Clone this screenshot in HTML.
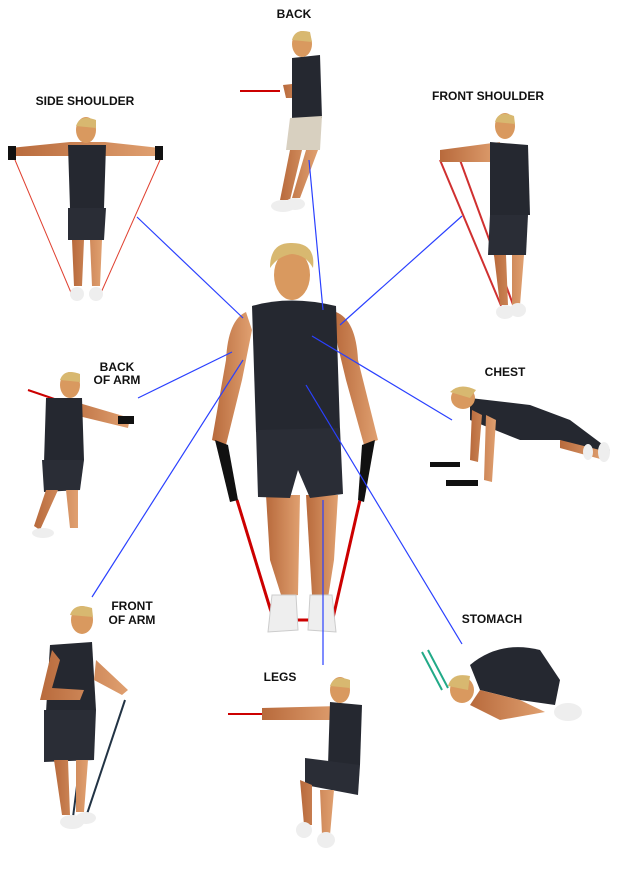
<!DOCTYPE html>
<html><head><meta charset="utf-8"><style>
html,body{margin:0;padding:0;background:#fff}
svg{display:block}
text{font-family:"Liberation Sans",Arial,sans-serif;font-weight:bold;font-size:12px;fill:#111}
</style></head><body>
<svg width="626" height="870" viewBox="0 0 626 870" xmlns="http://www.w3.org/2000/svg">
<defs>
<linearGradient id="sk" x1="0" x2="1"><stop offset="0" stop-color="#b86a3c"/><stop offset="1" stop-color="#e0a070"/></linearGradient>
</defs>
<!-- labels -->
<text x="294" y="18" text-anchor="middle">BACK</text>
<text x="85" y="105" text-anchor="middle">SIDE SHOULDER</text>
<text x="488" y="100" text-anchor="middle">FRONT SHOULDER</text>
<text x="117" y="371" text-anchor="middle">BACK</text>
<text x="117" y="384" text-anchor="middle">OF ARM</text>
<text x="505" y="376" text-anchor="middle">CHEST</text>
<text x="132" y="610" text-anchor="middle">FRONT</text>
<text x="132" y="624" text-anchor="middle">OF ARM</text>
<text x="280" y="681" text-anchor="middle">LEGS</text>
<text x="492" y="623" text-anchor="middle">STOMACH</text>

<!-- central figure -->
<g>
<line x1="237" y1="500" x2="273" y2="618" stroke="#c00" stroke-width="3"/>
<line x1="360" y1="500" x2="333" y2="618" stroke="#c00" stroke-width="3"/>
<line x1="290" y1="620" x2="320" y2="620" stroke="#c00" stroke-width="3"/>
<path d="M246 312 Q228 320 226 360 L212 440 L226 445 L242 380 L252 330Z" fill="url(#sk)"/>
<path d="M336 312 Q356 320 358 360 L378 440 L364 445 L346 380 L334 330Z" fill="url(#sk)"/>
<path d="M266 495 L300 495 L298 595 L282 598 L270 560Z" fill="url(#sk)"/>
<path d="M306 495 L338 495 L334 560 L328 598 L312 595Z" fill="url(#sk)"/>
<path d="M252 306 Q290 295 336 306 L340 430 L256 432Z" fill="#252830"/>
<path d="M256 430 L340 428 L343 494 L310 498 L298 470 L290 498 L258 497Z" fill="#2a2d36"/>
<ellipse cx="292" cy="275" rx="18" ry="25" fill="#d9995f"/>
<path d="M270 268 Q270 242 292 243 Q316 243 313 268 Q306 255 292 254 Q278 256 270 268Z" fill="#d8b870"/>
<path d="M272 595 L296 595 L298 630 L268 632Z" fill="#eee" stroke="#ccc"/>
<path d="M310 595 L332 595 L336 632 L308 630Z" fill="#eee" stroke="#ccc"/>
<path d="M215 440 L228 445 L238 500 L230 502Z" fill="#111"/>
<path d="M375 440 L362 445 L358 500 L364 502Z" fill="#111"/>
</g>

<!-- back (top) -->
<g>
<line x1="240" y1="91" x2="280" y2="91" stroke="#c00" stroke-width="2"/>
<path d="M283 85 L310 82 L312 98 L286 98Z" fill="url(#sk)"/>
<path d="M292 58 L320 55 L322 118 L292 120Z" fill="#252830"/>
<path d="M290 118 L322 116 L320 150 L286 150Z" fill="#d8d0c0"/>
<path d="M290 150 L302 150 L290 200 L280 200Z M306 150 L318 150 L300 198 L292 198Z" fill="url(#sk)"/>
<ellipse cx="302" cy="44" rx="10" ry="13" fill="#d9995f"/>
<path d="M292 40 Q295 28 310 32 L312 42Z" fill="#d8b870"/>
<ellipse cx="283" cy="206" rx="12" ry="6" fill="#eee"/><ellipse cx="295" cy="204" rx="10" ry="6" fill="#eee"/>
</g>

<!-- side shoulder -->
<g>
<line x1="15" y1="160" x2="72" y2="295" stroke="#e04030" stroke-width="1"/>
<line x1="160" y1="160" x2="100" y2="295" stroke="#e04030" stroke-width="1"/>
<path d="M10 148 L70 142 L105 142 L160 148 L160 156 L105 156 L70 156 L10 156Z" fill="url(#sk)"/>
<path d="M68 145 L106 145 L104 208 L70 208Z" fill="#252830"/>
<path d="M68 208 L106 208 L104 240 L68 240Z" fill="#2a2d36"/>
<path d="M72 240 L84 240 L82 286 L74 286Z M90 240 L102 240 L100 286 L92 286Z" fill="url(#sk)"/>
<ellipse cx="86" cy="130" rx="10" ry="13" fill="#d9995f"/>
<path d="M76 126 Q80 114 96 120 L96 128Z" fill="#d8b870"/>
<ellipse cx="77" cy="294" rx="7" ry="7" fill="#eee"/><ellipse cx="96" cy="294" rx="7" ry="7" fill="#eee"/>
<rect x="8" y="146" width="8" height="14" fill="#111"/><rect x="155" y="146" width="8" height="14" fill="#111"/>
</g>

<!-- front shoulder -->
<g>
<line x1="440" y1="160" x2="505" y2="315" stroke="#d03030" stroke-width="2"/>
<line x1="460" y1="160" x2="515" y2="310" stroke="#d03030" stroke-width="2"/>
<path d="M440 150 L500 142 L500 162 L440 162Z" fill="url(#sk)"/>
<path d="M490 142 L528 145 L530 215 L490 215Z" fill="#252830"/>
<path d="M490 215 L528 215 L526 255 L488 255Z" fill="#2a2d36"/>
<path d="M494 255 L506 255 L508 305 L500 305Z M512 255 L524 255 L520 305 L512 305Z" fill="url(#sk)"/>
<ellipse cx="505" cy="126" rx="10" ry="13" fill="#d9995f"/>
<path d="M495 122 Q498 110 514 116 L515 124Z" fill="#d8b870"/>
<ellipse cx="505" cy="312" rx="9" ry="7" fill="#eee"/><ellipse cx="518" cy="310" rx="8" ry="7" fill="#eee"/>
</g>

<!-- back of arm -->
<g>
<line x1="28" y1="390" x2="110" y2="418" stroke="#c00" stroke-width="2"/>
<path d="M62 398 L130 418 L128 428 L62 412Z" fill="url(#sk)"/>
<path d="M46 398 L82 398 L84 460 L44 462Z" fill="#252830"/>
<path d="M42 460 L84 460 L80 490 L44 492Z" fill="#2a2d36"/>
<path d="M46 490 L58 490 L40 530 L34 526Z M66 490 L78 490 L78 528 L70 528Z" fill="url(#sk)"/>
<ellipse cx="70" cy="385" rx="10" ry="13" fill="#d9995f"/>
<path d="M60 380 Q64 368 80 374 L80 382Z" fill="#d8b870"/>
<ellipse cx="43" cy="533" rx="11" ry="5" fill="#eee"/>
<rect x="118" y="416" width="16" height="8" fill="#111"/>
</g>

<!-- chest -->
<g>
<path d="M470 398 L530 405 L570 420 L610 450 L604 456 L560 440 L520 440 L470 420Z" fill="#252830"/>
<path d="M560 440 L600 450 L604 460 L560 448Z" fill="url(#sk)"/>
<path d="M472 410 L470 460 L478 462 L482 415Z M486 415 L484 480 L492 482 L496 420Z" fill="url(#sk)"/>
<ellipse cx="463" cy="398" rx="12" ry="11" fill="#d9995f"/>
<path d="M450 392 Q460 382 476 390 L470 398Z" fill="#d8b870"/>
<rect x="430" y="462" width="30" height="5" fill="#111"/><rect x="446" y="480" width="32" height="6" fill="#111"/>
<ellipse cx="604" cy="452" rx="6" ry="10" fill="#eee"/><ellipse cx="588" cy="452" rx="5" ry="8" fill="#eee"/>
</g>

<!-- front of arm -->
<g>
<line x1="88" y1="700" x2="72" y2="825" stroke="#234" stroke-width="2"/>
<line x1="125" y1="700" x2="85" y2="820" stroke="#234" stroke-width="2"/>
<path d="M50 645 L92 642 L96 710 L46 712Z" fill="#252830"/>
<path d="M44 710 L96 710 L94 760 L44 762Z" fill="#2a2d36"/>
<path d="M52 650 L40 700 L80 700 L84 690 L52 688 L60 660Z M96 660 L128 690 L122 695 L94 680Z" fill="url(#sk)"/>
<path d="M54 760 L68 760 L70 815 L62 815Z M76 760 L88 760 L84 812 L76 812Z" fill="url(#sk)"/>
<ellipse cx="82" cy="620" rx="11" ry="14" fill="#d9995f"/>
<path d="M70 615 Q74 602 92 608 L93 617Z" fill="#d8b870"/>
<ellipse cx="72" cy="822" rx="12" ry="7" fill="#eee"/><ellipse cx="86" cy="818" rx="10" ry="6" fill="#eee"/>
</g>

<!-- legs -->
<g>
<line x1="228" y1="714" x2="265" y2="714" stroke="#c00" stroke-width="2"/>
<path d="M262 708 L340 706 L340 720 L262 720Z" fill="url(#sk)"/>
<path d="M330 702 L362 705 L360 765 L328 765Z" fill="#252830"/>
<path d="M305 758 L360 765 L358 795 L305 785Z" fill="#2a2d36"/>
<path d="M300 780 L312 785 L312 825 L304 825Z M320 790 L334 790 L330 835 L322 835Z" fill="url(#sk)"/>
<ellipse cx="340" cy="690" rx="10" ry="13" fill="#d9995f"/>
<path d="M330 686 Q334 674 350 680 L350 688Z" fill="#d8b870"/>
<ellipse cx="304" cy="830" rx="8" ry="8" fill="#eee"/><ellipse cx="326" cy="840" rx="9" ry="8" fill="#eee"/>
</g>

<!-- stomach -->
<g>
<line x1="422" y1="652" x2="442" y2="690" stroke="#2a8" stroke-width="2"/>
<line x1="428" y1="650" x2="448" y2="688" stroke="#2a8" stroke-width="2"/>
<path d="M470 665 Q500 640 540 650 L560 680 L555 705 L520 700 L480 690Z" fill="#252830"/>
<path d="M480 690 L520 700 L545 712 L500 720 L470 705Z" fill="url(#sk)"/>
<ellipse cx="462" cy="690" rx="12" ry="13" fill="#d9995f"/>
<path d="M448 686 Q452 672 470 676 L468 690Z" fill="#d8b870"/>
<ellipse cx="568" cy="712" rx="14" ry="9" fill="#eee"/>
</g>

<!-- blue connectors -->
<g stroke="#2a40ff" stroke-width="1.2" fill="none">
<line x1="137" y1="217" x2="243" y2="318"/>
<line x1="309" y1="160" x2="323" y2="310"/>
<line x1="462" y1="216" x2="340" y2="325"/>
<line x1="138" y1="398" x2="232" y2="352"/>
<line x1="312" y1="336" x2="452" y2="420"/>
<line x1="92" y1="597" x2="243" y2="360"/>
<line x1="306" y1="385" x2="462" y2="644"/>
<line x1="323" y1="500" x2="323" y2="665"/>
</g>
</svg>
</body></html>
